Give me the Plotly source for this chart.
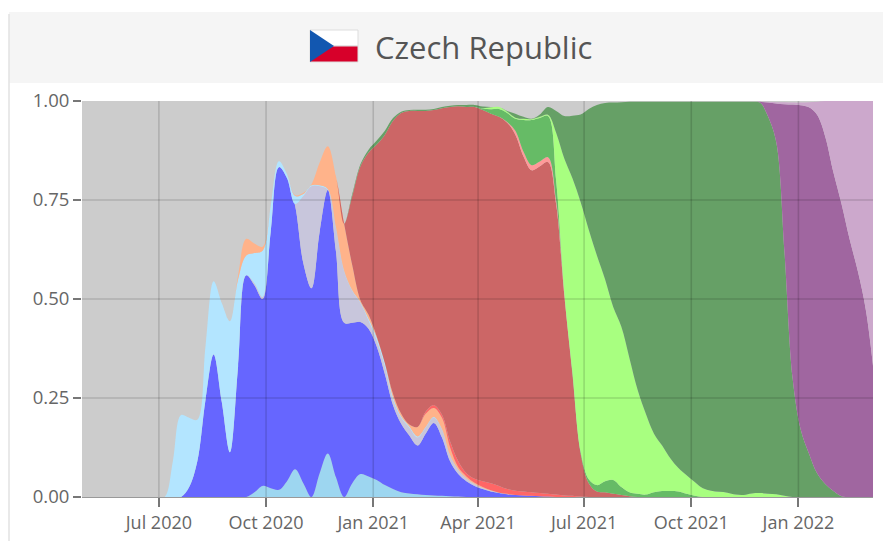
import pandas as pd
import plotly.graph_objects as go

W, H = 883, 541
dates = pd.date_range("2020-06-01", periods=93, freq="7D")

def full(start, vals, tail=None):
    """Weekly readings starting at week index `start`; zero before, `tail` after."""
    arr = [0.0] * start + list(vals)
    last = arr[-1] if tail is None else tail
    return arr + [last] * (93 - len(arr))

# Stack boundaries (top of each band)
top_sky = full(16, [.012,.028,.022,.018,.04,.07,.035,0,.06,.11,.05,0,.035,.058,.052,.043,.03,.02,.012,.009,.007,.005,.004,.003,.002,.001], 0)
top_blue = full(8, [.025,.09,.245,.36,.24,.113,.33,.56,.535,.5,.67,.833,.805,.735,.59,.527,.67,.775,.62,.44,.44,.442,.425,.38,.31,.232,.185,.155,.13,.16,.187,.15,.09,.058,.04,.028,.02,.014,.01,.007,.005,.004,.003,.002,.001], 0)
top_lav = full(8, [.025,.09,.245,.36,.24,.113,.33,.56,.54,.505,.67,.833,.805,.74,.76,.785,.785,.776,.68,.57,.52,.49,.445,.395,.33,.245,.2,.175,.15,.175,.2,.17,.105,.068,.046,.032,.022,.015,.01,.007,.005,.004,.003,.002,.001], 0)
top_light = full(6, [.09,.207,.2,.195,.38,.545,.49,.444,.55,.61,.616,.622,.735,.848,.815,.76,.765,.787,.787,.778,.682,.572,.522,.492,.45,.402,.338,.252,.203,.178,.153,.177,.202,.172,.106,.069,.047,.033,.023,.016,.011,.007,.005,.004,.003,.002,.001], 0)
top_orange = full(6, [.09,.207,.2,.195,.38,.545,.49,.444,.56,.652,.64,.632,.735,.848,.815,.762,.768,.79,.845,.886,.81,.69,.585,.497,.46,.405,.338,.26,.21,.183,.177,.21,.225,.2,.125,.075,.052,.036,.025,.017,.011,.008,.005,.004,.003,.002,.001], 0)
top_bright = full(6, [.09,.207,.2,.195,.38,.545,.49,.444,.56,.652,.64,.632,.735,.848,.815,.762,.768,.79,.845,.886,.81,.69,.585,.497,.46,.405,.338,.26,.21,.183,.177,.215,.232,.208,.14,.09,.06,.046,.04,.035,.028,.02,.016,.014,.012,.01,.008,.006,.004,.003,.001], 0)
top_red = full(6, [.09,.207,.2,.195,.38,.545,.49,.444,.56,.652,.64,.632,.735,.848,.815,.762,.768,.79,.845,.886,.81,.69,.76,.835,.87,.89,.915,.95,.97,.975,.975,.975,.977,.982,.985,.987,.985,.985,.977,.968,.96,.945,.915,.86,.825,.835,.846,.74,.51,.31,.11,.035,.014,.012,.008,.005,.002], 0)
top_pink = top_red[:47] + [.947,.925,.872,.838,.847,.858,.75,.515] + top_red[55:]
top_med = top_pink[:44] + [.981,.979,.98,.97,.955,.952,.952,.957,.962,.8,.515,.315,.115,.045,.03,.04,.043,.025,.012,.008,.006,.012,.015,.015,.014,.008,.003] + [0.0] * 22
top_lime = top_med[:44] + [.982,.984,.985,.973,.958,.955,.954,.96,.965,.92,.855,.805,.745,.675,.61,.55,.48,.43,.35,.27,.21,.16,.13,.098,.073,.055,.038,.022,.016,.013,.011,.006,.005,.009,.01,.008,.007,.003] + [0.0] * 11
top_dark = top_lime[:28] + [.765,.84,.877,.9,.925,.957,.973,.977,.978,.978,.98,.985,.988,.99,.99,.99,.986,.985,.985,.975,.968,.96,.955,.966,.985,.975,.962,.963,.966,.98,.99,.995,.996,.997] + [.998] * 16 + [.996,.96,.895,.62,.3,.17,.11,.06,.033,.015,.002,0,0,0,0]
top_purple = top_dark[:70] + [.998] * 9 + [.996,.994,.992,.991,.989,.984,.965,.91,.82,.74,.65,.57,.47,.305]
top_pale = top_purple[:79] + [.998,.997,.997,.996,.996,.997,.998,1,1,1,1,1,1,1]

boundaries = [top_sky, top_blue, top_lav, top_light, top_orange, top_bright, top_red,
              top_pink, top_med, top_lime, top_dark, top_purple, top_pale]
colors = ["#9dd6f0", "#6666ff", "#c8c6dc", "#b3e5ff", "#ffb38a", "#ff6666", "#cc6666",
          "#ff9999", "#66bb66", "#a8ff80", "#66a066", "#a066a0", "#cca8cc"]
x_ticks = ["2020-07-01", "2020-10-01", "2021-01-01", "2021-04-01", "2021-07-01", "2021-10-01", "2022-01-01"]
x_labels = ["Jul 2020", "Oct 2020", "Jan 2021", "Apr 2021", "Jul 2021", "Oct 2021", "Jan 2022"]
y_ticks = [0, 0.25, 0.5, 0.75, 1]

fig = go.Figure()
prev = [0.0] * 93
for top, col in zip(boundaries, colors):
    vals = [max(0.0, round(t - p, 4)) for t, p in zip(top, prev)]
    prev = [p + v for p, v in zip(prev, vals)]
    fig.add_trace(go.Scatter(x=dates, y=vals, mode="lines", stackgroup="a",
                             line=dict(width=0, shape="spline", smoothing=1.0),
                             fillcolor=col, hoverinfo="skip", showlegend=False))

L, R, T, B = 82, 873, 101, 497
px = lambda v: (v - L) / (R - L)
py = lambda v: (B - v) / (B - T)

def rect(x0, y0, x1, y1, fill, line=None):
    return dict(type="rect", xref="paper", yref="paper", x0=px(x0), x1=px(x1), y0=py(y0), y1=py(y1),
                fillcolor=fill, line=dict(width=1 if line else 0, color=line or fill), layer="below")

GRID = dict(color="rgba(0,0,0,0.14)", width=1.6)
shapes = [
    rect(9, 12, 883, 83, "#f5f5f5"),
    dict(type="line", xref="paper", yref="paper", x0=px(9), x1=px(9), y0=py(14), y1=py(541),
         line=dict(color="#e2e2e2", width=1.5)),
    rect(310, 30, 358, 46, "#ffffff", "#dddddd"),
    rect(310, 46, 358, 62, "#d7002a", "#dddddd"),
    dict(type="path", xref="paper", yref="paper",
         path=f"M {px(310)} {py(30)} L {px(334)} {py(46)} L {px(310)} {py(62)} Z",
         fillcolor="#1257b0", line=dict(width=0), layer="below"),
]
# Grid sits over the bands in the reference
shapes += [dict(type="line", xref="x", yref="paper", x0=t, x1=t, y0=0, y1=1, line=GRID, layer="above") for t in x_ticks]
shapes += [dict(type="line", xref="paper", yref="y", x0=0, x1=1, y0=t, y1=t, line=GRID, layer="above") for t in y_ticks[1:-1]]

fig.update_layout(
    width=W, height=H, autosize=False,
    margin=dict(l=L, r=W - R, t=T, b=H - B, pad=0, autoexpand=False),
    paper_bgcolor="#ffffff", plot_bgcolor="#cccccc",
    font=dict(family="Open Sans", size=18, color="#666666"),
    shapes=shapes,
    annotations=[dict(text="Czech Republic", xref="paper", yref="paper", x=px(373), y=py(47),
                      xanchor="left", yanchor="middle", showarrow=False,
                      font=dict(family="Open Sans", size=31, color="#555555"))],
    xaxis=dict(type="date", range=["2020-04-26", "2022-03-06"], tickmode="array", tickvals=x_ticks,
               ticktext=x_labels, ticks="outside", ticklen=9, tickwidth=1.5, tickcolor="#777777",
               automargin=False, showgrid=False, showline=True, linecolor="#999999", linewidth=1, zeroline=False),
    yaxis=dict(range=[0, 1], tickmode="array", tickvals=y_ticks, tickformat=".2f", ticks="outside",
               ticklen=8, tickwidth=1.5, tickcolor="#777777", automargin=False, showgrid=False, showline=False,
               zeroline=False, tickfont=dict(size=18.5)),
)

fig.write_html("out.html", post_script="document.body.style.margin='0';", config={"displayModeBar": False})
